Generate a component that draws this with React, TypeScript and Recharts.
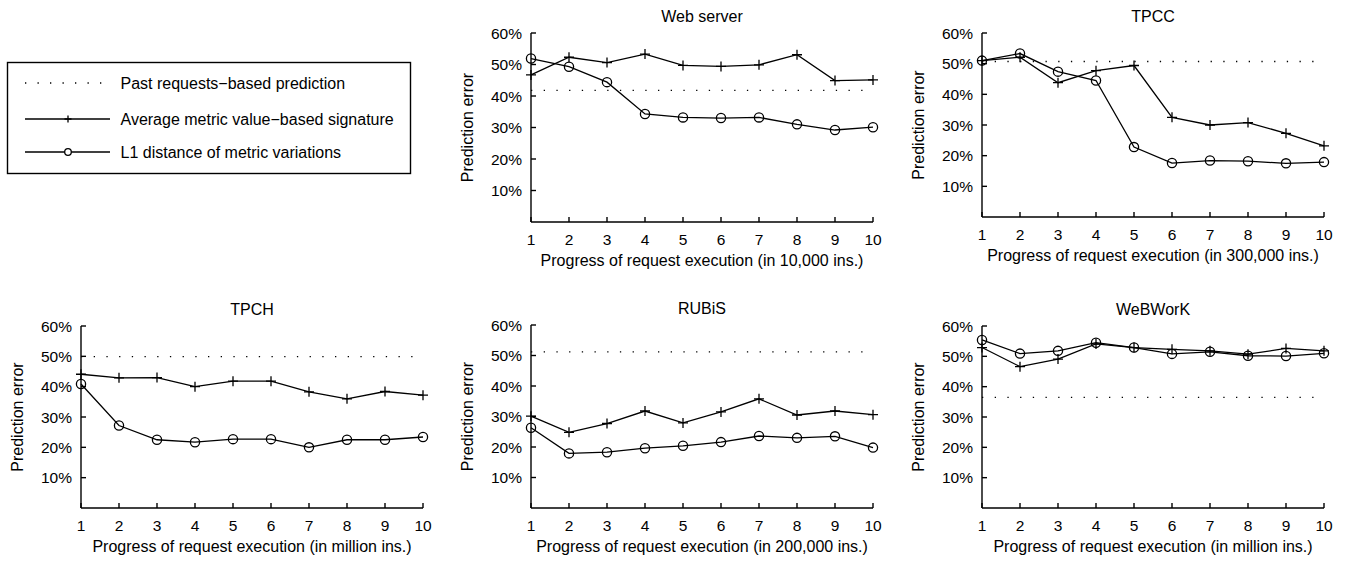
import { LineChart, Line, XAxis, YAxis, ReferenceLine } from 'recharts';

const STEPS = [1, 2, 3, 4, 5, 6, 7, 8, 9, 10];
const Y_TICKS = [10, 20, 30, 40, 50, 60];

const LEGEND_LABELS = [
  'Past requests\u2212based prediction',
  'Average metric value\u2212based signature',
  'L1 distance of metric variations',
];

// values (percent)
const webPast = 41.8;
const webAvg = [46.7, 52.3, 50.6, 53.3, 49.7, 49.4, 49.9, 53.1, 44.9, 45.1];
const webL1 = [51.9, 49.3, 44.4, 34.3, 33.2, 33.0, 33.2, 31.0, 29.2, 30.1];

const tpccPast = 50.7;
const tpccAvg = [51.0, 52.1, 43.8, 47.7, 49.4, 32.5, 30.0, 30.8, 27.3, 23.2];
const tpccL1 = [51.0, 53.3, 47.4, 44.5, 22.8, 17.6, 18.4, 18.2, 17.5, 17.9];

const tpchPast = 49.9;
const tpchAvg = [44.1, 42.9, 43.0, 40.0, 41.8, 41.8, 38.3, 36.0, 38.4, 37.2];
const tpchL1 = [40.9, 27.2, 22.5, 21.7, 22.7, 22.7, 20.0, 22.5, 22.5, 23.4];

const rubisPast = 51.2;
const rubisAvg = [30.1, 24.8, 27.7, 31.8, 27.9, 31.5, 35.8, 30.5, 31.8, 30.6];
const rubisL1 = [26.3, 17.9, 18.3, 19.6, 20.4, 21.6, 23.6, 23.0, 23.5, 19.8];

const webworkPast = 36.5;
const webworkAvg = [52.9, 46.6, 49.1, 54.1, 52.9, 52.3, 51.8, 50.7, 52.6, 51.8];
const webworkL1 = [55.4, 50.9, 51.8, 54.5, 52.9, 50.8, 51.5, 50.2, 50.1, 51.0];

const FONT = '"Liberation Sans", Arial, Helvetica, sans-serif';
const PLOT_W = 342;

const PANELS = [
  { title: 'Web server', unit: '10,000 ins.', past: webPast, avg: webAvg, l1: webL1, left: 531, top: 33, bottom: 222 },
  { title: 'TPCC', unit: '300,000 ins.', past: tpccPast, avg: tpccAvg, l1: tpccL1, left: 982, top: 33, bottom: 217 },
  { title: 'TPCH', unit: 'million ins.', past: tpchPast, avg: tpchAvg, l1: tpchL1, left: 81, top: 326, bottom: 508 },
  { title: 'RUBiS', unit: '200,000 ins.', past: rubisPast, avg: rubisAvg, l1: rubisL1, left: 531, top: 325, bottom: 508 },
  { title: 'WeBWorK', unit: 'million ins.', past: webworkPast, avg: webworkAvg, l1: webworkL1, left: 982, top: 326, bottom: 508 },
];

function PlusDot(props: any) {
  const { cx, cy } = props;
  if (cx == null || cy == null) return null;
  return <path d={`M${cx - 5},${cy}H${cx + 5}M${cx},${cy - 5}V${cy + 5}`} stroke="#000" strokeWidth={1.3} fill="none" />;
}

function CircleDot(props: any) {
  const { cx, cy } = props;
  if (cx == null || cy == null) return null;
  return <circle cx={cx} cy={cy} r={4.6} stroke="#000" strokeWidth={1.3} fill="none" />;
}

const axisStyle = { stroke: '#000', strokeWidth: 1.4 };
const tickText = { fill: '#000', fontSize: 15.5, fontFamily: FONT };

function Panel({ p }: { p: (typeof PANELS)[number] }) {
  const data = STEPS.map((s, i) => ({ step: s, avg: p.avg[i], l1: p.l1[i] }));
  const plotH = p.bottom - p.top;
  const W = PLOT_W + 100;
  const H = plotH + 50;
  return (
    <div style={{ position: 'absolute', left: p.left - 90, top: p.top - 10, width: W, height: H }}>
      <LineChart width={W} height={H} data={data} margin={{ top: 10, right: 10, bottom: 10, left: 50 }}>
        <XAxis
          xAxisId="b"
          dataKey="step"
          type="number"
          domain={[1, 10]}
          ticks={STEPS}
          interval={0}
          height={30}
          axisLine={axisStyle}
          tickLine={axisStyle}
          tickSize={-5}
          tickMargin={16.5}
          tick={tickText}
        />
        <XAxis
          xAxisId="t"
          orientation="top"
          dataKey="step"
          type="number"
          domain={[1, 10]}
          ticks={STEPS}
          interval={0}
          height={0}
          axisLine={axisStyle}
          tickLine={axisStyle}
          tickSize={-5}
          tickFormatter={() => ''}
        />
        <YAxis
          yAxisId="l"
          type="number"
          domain={[0, 60]}
          ticks={Y_TICKS}
          interval={0}
          width={40}
          axisLine={axisStyle}
          tickLine={axisStyle}
          tickSize={-5}
          tickMargin={14}
          tick={tickText}
          tickFormatter={(v: number) => `${v}%`}
        />
        <YAxis
          yAxisId="r"
          orientation="right"
          type="number"
          domain={[0, 60]}
          ticks={Y_TICKS}
          interval={0}
          width={0}
          axisLine={axisStyle}
          tickLine={axisStyle}
          tickSize={-5}
          tickFormatter={() => ''}
        />
        <ReferenceLine
          xAxisId="b"
          yAxisId="l"
          y={p.past}
          stroke="#000"
          strokeWidth={1.3}
          strokeDasharray="1.3 11.4"
          ifOverflow="visible"
        />
        <Line
          xAxisId="b"
          yAxisId="l"
          dataKey="avg"
          stroke="#000"
          strokeWidth={1.3}
          dot={<PlusDot />}
          activeDot={false}
          isAnimationActive={false}
        />
        <Line
          xAxisId="b"
          yAxisId="l"
          dataKey="l1"
          stroke="#000"
          strokeWidth={1.3}
          dot={<CircleDot />}
          activeDot={false}
          isAnimationActive={false}
        />
      </LineChart>
    </div>
  );
}

export default function App() {
  const rows = [83, 119, 152];
  return (
    <div style={{ position: 'absolute', left: 0, top: 0, width: 1345, height: 561, background: '#fff', fontFamily: FONT }}>
      {PANELS.map((p) => (
        <Panel key={p.title} p={p} />
      ))}
      <svg width={1345} height={561} style={{ position: 'absolute', left: 0, top: 0, pointerEvents: 'none' }}>
        {PANELS.map((p) => {
          const cx = p.left + PLOT_W / 2;
          const cy = (p.top + p.bottom) / 2;
          return (
            <g key={p.title} fontFamily={FONT} fontSize={16} fill="#000">
              <text x={cx} y={p.top - 17} textAnchor="middle" dominantBaseline="central">
                {p.title}
              </text>
              <text x={cx} y={p.bottom + 38} textAnchor="middle" dominantBaseline="central">
                {`Progress of request execution (in ${p.unit})`}
              </text>
              <text
                x={p.left - 64}
                y={cy}
                textAnchor="middle"
                dominantBaseline="central"
                transform={`rotate(-90 ${p.left - 64} ${cy})`}
              >
                Prediction error
              </text>
            </g>
          );
        })}
        <rect x={7.5} y={62.5} width={403} height={111} fill="none" stroke="#000" strokeWidth={1.4} />
        <line x1={25} x2={110} y1={rows[0]} y2={rows[0]} stroke="#000" strokeWidth={1.3} strokeDasharray="1.3 11.2" />
        <line x1={25} x2={110} y1={rows[1]} y2={rows[1]} stroke="#000" strokeWidth={1.3} />
        <path d={`M64.5,${rows[1]}H71.5M68,${rows[1] - 3.5}V${rows[1] + 3.5}`} stroke="#000" strokeWidth={1.3} />
        <line x1={25} x2={110} y1={rows[2]} y2={rows[2]} stroke="#000" strokeWidth={1.3} />
        <circle cx={68} cy={rows[2]} r={3.3} fill="#fff" stroke="#000" strokeWidth={1.3} />
        {LEGEND_LABELS.map((t, i) => (
          <text key={t} x={120.5} y={rows[i]} fontFamily={FONT} fontSize={16} dominantBaseline="central" fill="#000">
            {t}
          </text>
        ))}
      </svg>
    </div>
  );
}
